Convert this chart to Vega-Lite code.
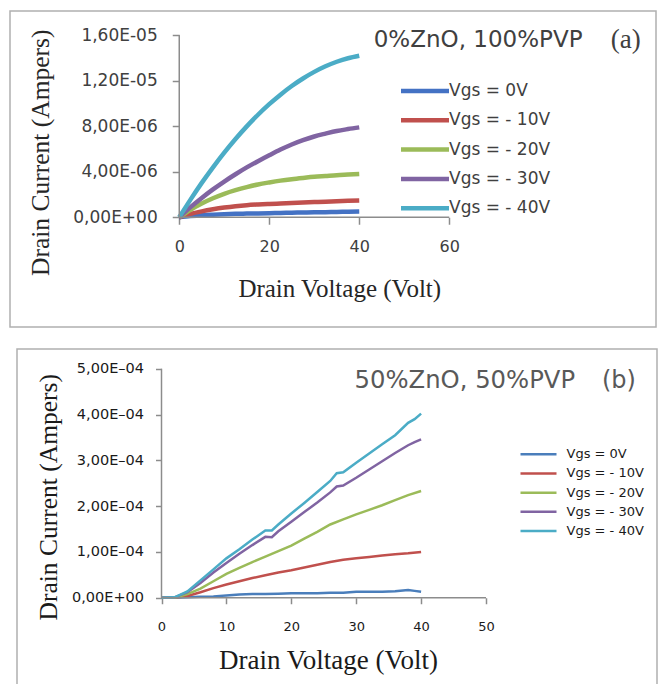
{
  "$schema": "https://vega.github.io/schema/vega-lite/v6.json",
  "padding": {"left": 9, "top": 10, "right": 0, "bottom": 0},
  "background": "white",
  "spacing": 18,
  "config": {
    "view": {"stroke": "#b0b0b0", "strokeWidth": 1.5},
    "axis": {"grid": false, "domain": false, "labelFont": "DejaVu Sans", "titleFont": "Liberation Serif", "titleFontWeight": "normal"},
    "legend": {"labelFont": "DejaVu Sans"}
  },
  "datasets": {
    "a": [
      {"s":"Vgs = 0V","x":0,"y":0},{"s":"Vgs = 0V","x":2.5,"y":1.0e-7},{"s":"Vgs = 0V","x":5,"y":1.8e-7},{"s":"Vgs = 0V","x":7.5,"y":2.3e-7},{"s":"Vgs = 0V","x":10,"y":2.7e-7},{"s":"Vgs = 0V","x":12.5,"y":3.0e-7},{"s":"Vgs = 0V","x":15,"y":3.2e-7},{"s":"Vgs = 0V","x":17.5,"y":3.4e-7},{"s":"Vgs = 0V","x":20,"y":3.6e-7},{"s":"Vgs = 0V","x":22.5,"y":3.8e-7},{"s":"Vgs = 0V","x":25,"y":4.0e-7},{"s":"Vgs = 0V","x":27.5,"y":4.2e-7},{"s":"Vgs = 0V","x":30,"y":4.4e-7},{"s":"Vgs = 0V","x":32.5,"y":4.5e-7},{"s":"Vgs = 0V","x":35,"y":4.7e-7},{"s":"Vgs = 0V","x":37.5,"y":4.8e-7},{"s":"Vgs = 0V","x":40,"y":5.0e-7},
      {"s":"Vgs = - 10V","x":0,"y":0},{"s":"Vgs = - 10V","x":2.5,"y":3.0e-7},{"s":"Vgs = - 10V","x":5,"y":5.2e-7},{"s":"Vgs = - 10V","x":7.5,"y":7.0e-7},{"s":"Vgs = - 10V","x":10,"y":8.5e-7},{"s":"Vgs = - 10V","x":12.5,"y":9.7e-7},{"s":"Vgs = - 10V","x":15,"y":1.06e-6},{"s":"Vgs = - 10V","x":17.5,"y":1.12e-6},{"s":"Vgs = - 10V","x":20,"y":1.17e-6},{"s":"Vgs = - 10V","x":22.5,"y":1.21e-6},{"s":"Vgs = - 10V","x":25,"y":1.25e-6},{"s":"Vgs = - 10V","x":27.5,"y":1.29e-6},{"s":"Vgs = - 10V","x":30,"y":1.33e-6},{"s":"Vgs = - 10V","x":32.5,"y":1.37e-6},{"s":"Vgs = - 10V","x":35,"y":1.40e-6},{"s":"Vgs = - 10V","x":37.5,"y":1.44e-6},{"s":"Vgs = - 10V","x":40,"y":1.47e-6},
      {"s":"Vgs = - 20V","x":0,"y":0},{"s":"Vgs = - 20V","x":2.5,"y":6.6e-7},{"s":"Vgs = - 20V","x":5,"y":1.21e-6},{"s":"Vgs = - 20V","x":7.5,"y":1.67e-6},{"s":"Vgs = - 20V","x":10,"y":2.06e-6},{"s":"Vgs = - 20V","x":12.5,"y":2.38e-6},{"s":"Vgs = - 20V","x":15,"y":2.65e-6},{"s":"Vgs = - 20V","x":17.5,"y":2.88e-6},{"s":"Vgs = - 20V","x":20,"y":3.06e-6},{"s":"Vgs = - 20V","x":22.5,"y":3.22e-6},{"s":"Vgs = - 20V","x":25,"y":3.35e-6},{"s":"Vgs = - 20V","x":27.5,"y":3.46e-6},{"s":"Vgs = - 20V","x":30,"y":3.56e-6},{"s":"Vgs = - 20V","x":32.5,"y":3.63e-6},{"s":"Vgs = - 20V","x":35,"y":3.70e-6},{"s":"Vgs = - 20V","x":37.5,"y":3.75e-6},{"s":"Vgs = - 20V","x":40,"y":3.80e-6},
      {"s":"Vgs = - 30V","x":0,"y":0},{"s":"Vgs = - 30V","x":2.5,"y":8.9e-7},{"s":"Vgs = - 30V","x":5,"y":1.70e-6},{"s":"Vgs = - 30V","x":7.5,"y":2.45e-6},{"s":"Vgs = - 30V","x":10,"y":3.14e-6},{"s":"Vgs = - 30V","x":12.5,"y":3.78e-6},{"s":"Vgs = - 30V","x":15,"y":4.38e-6},{"s":"Vgs = - 30V","x":17.5,"y":4.93e-6},{"s":"Vgs = - 30V","x":20,"y":5.45e-6},{"s":"Vgs = - 30V","x":22.5,"y":5.95e-6},{"s":"Vgs = - 30V","x":25,"y":6.40e-6},{"s":"Vgs = - 30V","x":27.5,"y":6.78e-6},{"s":"Vgs = - 30V","x":30,"y":7.10e-6},{"s":"Vgs = - 30V","x":32.5,"y":7.35e-6},{"s":"Vgs = - 30V","x":35,"y":7.58e-6},{"s":"Vgs = - 30V","x":37.5,"y":7.75e-6},{"s":"Vgs = - 30V","x":40,"y":7.90e-6},
      {"s":"Vgs = - 40V","x":0,"y":0},{"s":"Vgs = - 40V","x":2.5,"y":1.55e-6},{"s":"Vgs = - 40V","x":5,"y":3.02e-6},{"s":"Vgs = - 40V","x":7.5,"y":4.39e-6},{"s":"Vgs = - 40V","x":10,"y":5.68e-6},{"s":"Vgs = - 40V","x":12.5,"y":6.88e-6},{"s":"Vgs = - 40V","x":15,"y":7.99e-6},{"s":"Vgs = - 40V","x":17.5,"y":9.01e-6},{"s":"Vgs = - 40V","x":20,"y":9.94e-6},{"s":"Vgs = - 40V","x":22.5,"y":1.078e-5},{"s":"Vgs = - 40V","x":25,"y":1.154e-5},{"s":"Vgs = - 40V","x":27.5,"y":1.220e-5},{"s":"Vgs = - 40V","x":30,"y":1.278e-5},{"s":"Vgs = - 40V","x":32.5,"y":1.327e-5},{"s":"Vgs = - 40V","x":35,"y":1.367e-5},{"s":"Vgs = - 40V","x":37.5,"y":1.398e-5},{"s":"Vgs = - 40V","x":40,"y":1.420e-5}
    ],
    "b": [
      {"s":"Vgs = 0V","x":0,"y":0},{"s":"Vgs = 0V","x":2,"y":0},{"s":"Vgs = 0V","x":4,"y":1e-6},{"s":"Vgs = 0V","x":6,"y":2e-6},{"s":"Vgs = 0V","x":8,"y":3e-6},{"s":"Vgs = 0V","x":10,"y":5e-6},{"s":"Vgs = 0V","x":12,"y":7e-6},{"s":"Vgs = 0V","x":14,"y":8e-6},{"s":"Vgs = 0V","x":16,"y":8e-6},{"s":"Vgs = 0V","x":18,"y":9e-6},{"s":"Vgs = 0V","x":20,"y":1.0e-5},{"s":"Vgs = 0V","x":22,"y":1.0e-5},{"s":"Vgs = 0V","x":24,"y":1.0e-5},{"s":"Vgs = 0V","x":26,"y":1.1e-5},{"s":"Vgs = 0V","x":28,"y":1.1e-5},{"s":"Vgs = 0V","x":30,"y":1.3e-5},{"s":"Vgs = 0V","x":32,"y":1.3e-5},{"s":"Vgs = 0V","x":34,"y":1.3e-5},{"s":"Vgs = 0V","x":36,"y":1.4e-5},{"s":"Vgs = 0V","x":38,"y":1.7e-5},{"s":"Vgs = 0V","x":39,"y":1.5e-5},{"s":"Vgs = 0V","x":40,"y":1.3e-5},
      {"s":"Vgs = - 10V","x":0,"y":0},{"s":"Vgs = - 10V","x":2,"y":0},{"s":"Vgs = - 10V","x":4,"y":4e-6},{"s":"Vgs = - 10V","x":6,"y":1.2e-5},{"s":"Vgs = - 10V","x":8,"y":2.1e-5},{"s":"Vgs = - 10V","x":10,"y":2.9e-5},{"s":"Vgs = - 10V","x":12,"y":3.6e-5},{"s":"Vgs = - 10V","x":14,"y":4.3e-5},{"s":"Vgs = - 10V","x":16,"y":4.9e-5},{"s":"Vgs = - 10V","x":18,"y":5.5e-5},{"s":"Vgs = - 10V","x":20,"y":6.0e-5},{"s":"Vgs = - 10V","x":22,"y":6.6e-5},{"s":"Vgs = - 10V","x":24,"y":7.2e-5},{"s":"Vgs = - 10V","x":26,"y":7.8e-5},{"s":"Vgs = - 10V","x":28,"y":8.3e-5},{"s":"Vgs = - 10V","x":30,"y":8.6e-5},{"s":"Vgs = - 10V","x":32,"y":8.9e-5},{"s":"Vgs = - 10V","x":34,"y":9.2e-5},{"s":"Vgs = - 10V","x":36,"y":9.5e-5},{"s":"Vgs = - 10V","x":38,"y":9.7e-5},{"s":"Vgs = - 10V","x":40,"y":1.0e-4},
      {"s":"Vgs = - 20V","x":0,"y":0},{"s":"Vgs = - 20V","x":2,"y":0},{"s":"Vgs = - 20V","x":4,"y":8e-6},{"s":"Vgs = - 20V","x":6,"y":2.0e-5},{"s":"Vgs = - 20V","x":8,"y":3.6e-5},{"s":"Vgs = - 20V","x":10,"y":5.2e-5},{"s":"Vgs = - 20V","x":12,"y":6.5e-5},{"s":"Vgs = - 20V","x":14,"y":7.8e-5},{"s":"Vgs = - 20V","x":16,"y":9.0e-5},{"s":"Vgs = - 20V","x":18,"y":1.02e-4},{"s":"Vgs = - 20V","x":20,"y":1.14e-4},{"s":"Vgs = - 20V","x":22,"y":1.29e-4},{"s":"Vgs = - 20V","x":24,"y":1.44e-4},{"s":"Vgs = - 20V","x":26,"y":1.60e-4},{"s":"Vgs = - 20V","x":28,"y":1.71e-4},{"s":"Vgs = - 20V","x":30,"y":1.82e-4},{"s":"Vgs = - 20V","x":32,"y":1.92e-4},{"s":"Vgs = - 20V","x":34,"y":2.02e-4},{"s":"Vgs = - 20V","x":36,"y":2.13e-4},{"s":"Vgs = - 20V","x":38,"y":2.24e-4},{"s":"Vgs = - 20V","x":40,"y":2.33e-4},
      {"s":"Vgs = - 30V","x":0,"y":0},{"s":"Vgs = - 30V","x":2,"y":1e-6},{"s":"Vgs = - 30V","x":4,"y":1.2e-5},{"s":"Vgs = - 30V","x":6,"y":3.2e-5},{"s":"Vgs = - 30V","x":8,"y":5.5e-5},{"s":"Vgs = - 30V","x":10,"y":7.6e-5},{"s":"Vgs = - 30V","x":12,"y":9.6e-5},{"s":"Vgs = - 30V","x":14,"y":1.15e-4},{"s":"Vgs = - 30V","x":16,"y":1.33e-4},{"s":"Vgs = - 30V","x":17,"y":1.32e-4},{"s":"Vgs = - 30V","x":18,"y":1.45e-4},{"s":"Vgs = - 30V","x":20,"y":1.66e-4},{"s":"Vgs = - 30V","x":22,"y":1.87e-4},{"s":"Vgs = - 30V","x":24,"y":2.08e-4},{"s":"Vgs = - 30V","x":26,"y":2.30e-4},{"s":"Vgs = - 30V","x":27,"y":2.43e-4},{"s":"Vgs = - 30V","x":28,"y":2.45e-4},{"s":"Vgs = - 30V","x":30,"y":2.62e-4},{"s":"Vgs = - 30V","x":32,"y":2.80e-4},{"s":"Vgs = - 30V","x":34,"y":2.98e-4},{"s":"Vgs = - 30V","x":36,"y":3.16e-4},{"s":"Vgs = - 30V","x":38,"y":3.33e-4},{"s":"Vgs = - 30V","x":39,"y":3.40e-4},{"s":"Vgs = - 30V","x":40,"y":3.46e-4},
      {"s":"Vgs = - 40V","x":0,"y":0},{"s":"Vgs = - 40V","x":2,"y":1e-6},{"s":"Vgs = - 40V","x":4,"y":1.4e-5},{"s":"Vgs = - 40V","x":6,"y":3.8e-5},{"s":"Vgs = - 40V","x":8,"y":6.2e-5},{"s":"Vgs = - 40V","x":10,"y":8.6e-5},{"s":"Vgs = - 40V","x":12,"y":1.06e-4},{"s":"Vgs = - 40V","x":14,"y":1.27e-4},{"s":"Vgs = - 40V","x":16,"y":1.47e-4},{"s":"Vgs = - 40V","x":17,"y":1.47e-4},{"s":"Vgs = - 40V","x":18,"y":1.60e-4},{"s":"Vgs = - 40V","x":20,"y":1.84e-4},{"s":"Vgs = - 40V","x":22,"y":2.07e-4},{"s":"Vgs = - 40V","x":24,"y":2.31e-4},{"s":"Vgs = - 40V","x":26,"y":2.55e-4},{"s":"Vgs = - 40V","x":27,"y":2.72e-4},{"s":"Vgs = - 40V","x":28,"y":2.74e-4},{"s":"Vgs = - 40V","x":30,"y":2.95e-4},{"s":"Vgs = - 40V","x":32,"y":3.15e-4},{"s":"Vgs = - 40V","x":34,"y":3.35e-4},{"s":"Vgs = - 40V","x":36,"y":3.55e-4},{"s":"Vgs = - 40V","x":38,"y":3.82e-4},{"s":"Vgs = - 40V","x":39,"y":3.90e-4},{"s":"Vgs = - 40V","x":40,"y":4.02e-4}
    ]
  },
  "resolve": {"scale": {"color": "independent"}, "legend": {"color": "independent"}},
  "vconcat": [
    {
      "width": 646,
      "height": 316,
      "layer": [
        {
          "data": {"name": "a"},
          "mark": {"type": "line", "strokeWidth": 4.5, "interpolate": "monotone"},
          "encoding": {
            "x": {"field": "x", "type": "quantitative",
              "scale": {"domain": [-37.611, 105.944], "nice": false, "zero": false},
              "axis": {"values": [0, 20, 40, 60], "offset": -109.75, "tickSize": 7, "tickColor": "#8c8c8c", "tickWidth": 1.5,
                "labelFontSize": 16, "labelColor": "#404040", "labelPadding": 14,
                "title": "Drain Voltage (Volt)", "titleFontSize": 25, "titleColor": "#262626",
                "titleX": 329.25, "titleY": 71, "titleBaseline": "middle", "titleAlign": "center"}},
            "y": {"field": "y", "type": "quantitative",
              "scale": {"domain": [-9.6484e-6, 1.81319e-5], "nice": false, "zero": false},
              "axis": {"values": [0, 4e-6, 8e-6, 1.2e-5, 1.6e-5], "offset": -169.25, "tickSize": 7, "tickColor": "#8c8c8c", "tickWidth": 1.5,
                "labelFontSize": 17, "labelColor": "#404040", "labelPadding": 15,
                "labelExpr": "replace(substring(format(datum.value,'.2e'),0,4),'.',',') + 'E' + substring(format(datum.value,'.2e'),5,6) + '0' + substring(format(datum.value,'.2e'),6)",
                "title": "Drain Current (Ampers)", "titleFontSize": 25.5, "titleColor": "#262626",
                "titleX": -138.5, "titleY": 141.25, "titleBaseline": "middle", "titleAlign": "center", "titleAngle": -90}},
            "color": {"field": "s", "type": "nominal",
              "scale": {"domain": ["Vgs = 0V", "Vgs = - 10V", "Vgs = - 20V", "Vgs = - 30V", "Vgs = - 40V"],
                        "range": ["#4472c4", "#c0504d", "#9bbb59", "#8064a2", "#4bacc6"]},
              "legend": {"title": null, "orient": "none", "legendX": 420.5, "legendY": 61.5, "padding": 0,
                "symbolType": "M-3,0L0,0", "symbolSize": 1024, "symbolStrokeWidth": 4.5,
                "labelFontSize": 17, "labelColor": "#404040", "labelOffset": -18.5, "rowPadding": 1.3}}
          }
        },
        {
          "data": {"values": [{}]},
          "mark": {"type": "rule", "color": "#8c8c8c", "strokeWidth": 1.5},
          "encoding": {"x": {"datum": 0, "type": "quantitative"}, "y": {"datum": 0, "type": "quantitative"}, "y2": {"datum": 1.6e-5}}
        },
        {
          "data": {"values": [{}]},
          "mark": {"type": "rule", "color": "#8c8c8c", "strokeWidth": 1.5},
          "encoding": {"x": {"datum": 0, "type": "quantitative"}, "x2": {"datum": 60}, "y": {"datum": 0, "type": "quantitative"}}
        },
        {
          "data": {"values": [{}]},
          "mark": {"type": "text", "align": "left", "baseline": "middle", "font": "DejaVu Sans", "fontSize": 23, "color": "#404040"},
          "encoding": {"x": {"datum": 43.22, "type": "quantitative"}, "y": {"datum": 1.5622e-5, "type": "quantitative"}, "text": {"value": "0%ZnO, 100%PVP"}}
        },
        {
          "data": {"values": [{}]},
          "mark": {"type": "text", "align": "left", "baseline": "middle", "font": "Liberation Serif", "fontSize": 27, "color": "#404040"},
          "encoding": {"x": {"datum": 95.9, "type": "quantitative"}, "y": {"datum": 1.5622e-5, "type": "quantitative"}, "text": {"value": "(a)"}}
        }
      ]
    },
    {
      "spacing": 0,
      "hconcat": [
        {
          "width": 5,
          "height": 1,
          "view": {"stroke": null},
          "data": {"values": [{}]},
          "mark": {"type": "point", "opacity": 0},
          "encoding": {}
        },
        {
          "width": 640,
          "height": 336,
          "layer": [
            {
              "data": {"name": "b"},
              "mark": {"type": "line", "strokeWidth": 2.5},
              "encoding": {
                "x": {"field": "x", "type": "quantitative",
                  "scale": {"domain": [-22.265, 76.348], "nice": false, "zero": false},
                  "axis": {"values": [0, 10, 20, 30, 40, 50], "offset": -87.25, "tickSize": 6, "tickColor": "#8c8c8c", "tickWidth": 1.5,
                    "labelFontSize": 13, "labelColor": "#1a1a1a", "labelPadding": 17,
                    "title": "Drain Voltage (Volt)", "titleFontSize": 27, "titleColor": "#1a1a1a",
                    "titleX": 311, "titleY": 63, "titleBaseline": "middle", "titleAlign": "center"}},
                "y": {"field": "y", "type": "quantitative",
                  "scale": {"domain": [-1.905e-4, 5.4312e-4], "nice": false, "zero": false},
                  "axis": {"values": [0, 1e-4, 2e-4, 3e-4, 4e-4, 5e-4], "offset": -144.5, "tickSize": 6, "tickColor": "#8c8c8c", "tickWidth": 1.5,
                    "labelFontSize": 14.5, "labelColor": "#1a1a1a", "labelPadding": 12,
                    "labelExpr": "replace(substring(format(datum.value,'.2e'),0,4),'.',',') + 'E' + replace(substring(format(datum.value,'.2e'),5,6),'-','–') + '0' + substring(format(datum.value,'.2e'),6)",
                    "title": "Drain Current (Ampers)", "titleFontSize": 25.5, "titleColor": "#1a1a1a",
                    "titleX": -113.5, "titleY": 147.75, "titleBaseline": "middle", "titleAlign": "center", "titleAngle": -90}},
                "color": {"field": "s", "type": "nominal",
                  "scale": {"domain": ["Vgs = 0V", "Vgs = - 10V", "Vgs = - 20V", "Vgs = - 30V", "Vgs = - 40V"],
                            "range": ["#4a7ebb", "#c0504d", "#9bbb59", "#8064a2", "#4bacc6"]},
                  "legend": {"title": null, "orient": "none", "legendX": 538, "legendY": 96.75, "padding": 0,
                    "symbolType": "M-5,0L0,0", "symbolSize": 207.36, "symbolStrokeWidth": 2.5,
                    "labelFontSize": 13, "labelColor": "#1a1a1a", "labelOffset": 1.5, "rowPadding": 3.2}}
              }
            },
            {
              "data": {"values": [{}]},
              "mark": {"type": "rule", "color": "#8c8c8c", "strokeWidth": 1.5},
              "encoding": {"x": {"datum": 0, "type": "quantitative"}, "y": {"datum": 0, "type": "quantitative"}, "y2": {"datum": 5e-4}}
            },
            {
              "data": {"values": [{}]},
              "mark": {"type": "rule", "color": "#8c8c8c", "strokeWidth": 1.5},
              "encoding": {"x": {"datum": 0, "type": "quantitative"}, "x2": {"datum": 50}, "y": {"datum": 0, "type": "quantitative"}}
            },
            {
              "data": {"values": [{}]},
              "mark": {"type": "text", "align": "left", "baseline": "middle", "font": "DejaVu Sans", "fontSize": 24.3, "color": "#595959"},
              "encoding": {"x": {"datum": 29.74, "type": "quantitative"}, "y": {"datum": 4.738e-4, "type": "quantitative"}, "text": {"value": "50%ZnO, 50%PVP"}}
            },
            {
              "data": {"values": [{}]},
              "mark": {"type": "text", "align": "left", "baseline": "middle", "font": "DejaVu Sans", "fontSize": 24, "color": "#595959"},
              "encoding": {"x": {"datum": 67.87, "type": "quantitative"}, "y": {"datum": 4.738e-4, "type": "quantitative"}, "text": {"value": "(b)"}}
            }
          ]
        }
      ]
    }
  ]
}
